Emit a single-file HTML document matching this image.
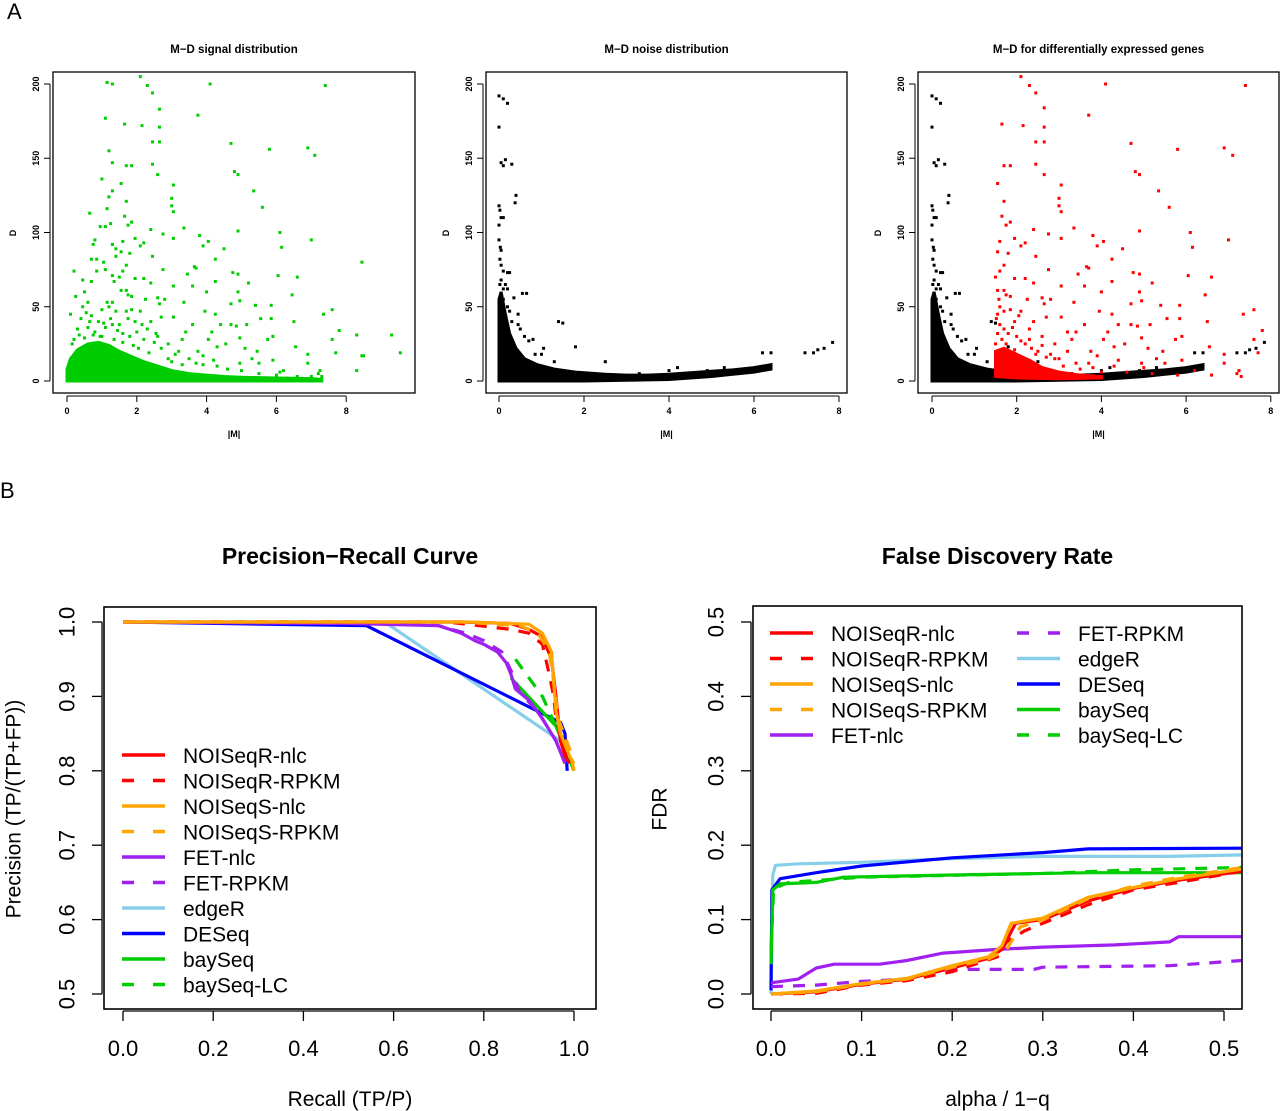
<!DOCTYPE html>
<html><head><meta charset="utf-8"><style>
html,body{margin:0;padding:0;background:#fff;}
svg{display:block;font-family:"Liberation Sans",sans-serif;}
</style></head><body>
<svg id="fig" width="1280" height="1111" viewBox="0 0 1280 1111" xmlns="http://www.w3.org/2000/svg">
<text x="7" y="19" font-size="22">A</text>
<text x="0" y="498" font-size="22">B</text>
<g id="topPanels"></g>
<g id="pr"></g>
<g id="fdr"></g>
</svg>
<script>
// ---------- Data: M-D scatter ----------
const signalPoints = [1.15,201,1.3,200,2.1,205,2.3,199,2.45,194,4.1,200,7.4,199,2.65,183,1.1,177,1.65,173,2.15,172,2.65,171,3.75,179,2.45,161,2.65,161,4.7,160,1.2,155,5.8,156,6.9,157,7.1,152,1.3,147,1.7,145,1.85,145,2.45,146,4.8,141,4.9,139,2.6,139,1.0,136,1.55,133,3.05,132,5.35,128,1.3,128,1.2,124,3.0,123,3.0,118,1.15,116,3.05,114,5.6,117,1.7,121,1.65,111,0.65,113,1.85,107,1.25,106,1.1,104,0.95,104,1.75,105,2.4,102,3.35,103,2.75,99,3.05,96,3.8,98,4.9,101,6.1,100,7.0,95,1.95,96,2.2,93,4.05,94,3.9,91,6.15,90,4.5,89,1.3,92,0.75,92,0.8,95,1.6,94,2.1,91,1.4,89,1.55,87,1.4,84,1.8,86,2.45,84,0.7,82,0.85,82,1.05,80,4.25,82,8.45,80,1.7,78,1.1,75,3.7,76,3.65,77,2.75,75,0.2,74,0.85,74,1.6,74,4.75,73,4.9,72,6.05,71,6.6,70,3.45,72,1.3,71,1.5,70,0.45,68,0.7,67,1.35,67,1.95,69,2.2,69,4.25,67,5.2,66,2.4,66,3.05,64,3.6,64,1.55,61,1.7,61,0.5,60,4.0,60,4.9,60,6.45,58,0.25,57,1.75,58,1.85,57,2.25,55,2.6,56,2.8,55,4.95,54,1.3,53,0.6,53,2.65,52,3.35,53,4.7,52,5.4,51,5.85,51,7.6,48,1.85,48,1.7,47,2.1,47,3.95,47,7.35,45,0.1,45,3.05,43,2.7,43,4.25,45,4.4,38,4.7,38,4.85,37,5.15,38,5.55,42,5.85,42,6.5,40,7.8,34,8.3,31,9.3,31,5.9,30,5.75,28,7.6,28,4.95,29,3.6,38,3.4,33,4.15,33,4.05,28,6.55,23,4.55,25,4.3,23,5.1,22,5.45,20,7.7,19,9.55,19,6.9,18,8.45,17,8.5,17,3.75,20,3.9,17,5.3,15,5.9,14,4.95,12,5.5,12,6.9,12,8.3,7,6.2,7,6.1,6,7.25,7,7.2,5,7.3,3,6.6,3,6.3,2,7.0,3,2.6,30,2.9,25,3.2,20,3.3,28,2.3,35,2.4,40,1.95,40,2.9,15,3.7,12,4.3,10,0.3,35,0.4,42,0.55,46,0.7,44,0.9,40,1.0,48,1.2,50,1.4,47,1.5,38,0.6,36,0.8,33,1.1,36,1.3,38,1.6,32,1.8,30,2.0,33,2.2,28,2.5,26,0.2,28,0.35,31,0.95,30,1.25,42,1.45,34,0.65,40,1.05,39,1.75,42,2.15,38,2.7,22,3.1,18,3.5,15,3.9,11,4.2,14,4.6,8,5.0,7,5.5,5,6.0,4,2.55,32,1.9,24,0.45,50,1.15,53,0.15,25,0.5,29,0.75,31,1.0,30,1.35,28,1.6,26,2.05,22,2.35,19,3.0,13,3.3,11];
const signalCoreUpper = [0,8,0.1,15,0.3,21,0.6,25,0.9,26,1.2,24,1.5,20,1.8,17,2.2,13,2.6,10,3.0,7,3.5,5,4.0,4,4.5,3,5.0,2.5,6.0,2,7.0,1.6,7.3,1];
const signalCoreLower = [7.3,0,0,0];

const noisePoints = [0,192,0.1,190,0.2,187,0,171,0.05,147,0.15,149,0.1,145,0.3,146,0.4,125,0.38,120,0,118,0.02,115,0.05,110,0.1,110,0,105,0,95,0.03,90,0.05,88,0.02,82,0.05,78,0.1,74,0.2,73,0.25,73,0.05,68,0.15,65,0.1,62,0.2,62,0.35,56,0.55,59,0.65,59,0.45,45,0.45,38,0.8,28,0.7,27,1.05,22,1.0,18,0.85,18,1.4,40,1.5,39,1.8,23,2.5,13,1.3,13,3.3,5,4.0,7,4.2,9,4.9,7,5.3,9,6.2,19,6.4,19,7.2,19,7.4,19,7.5,21,7.65,22,7.85,26,0.5,35,0.3,40,0.6,30,0.2,50,0.25,47,0.05,58,0.1,55,0.02,65];
const noiseCoreUpper = [0,55,0.05,60,0.15,45,0.25,32,0.4,22,0.6,15,0.9,11,1.3,8,1.8,6,2.5,4.5,3.0,4,3.5,4,4.0,4.5,4.5,5.5,5.0,6.5,5.5,7.5,6.0,9,6.4,11];
const noiseCoreLower = [6.4,8,6.0,6,5.5,4.5,5.0,3,4.5,2,4.0,1,3.0,0.5,2.0,0,0,0];

const dePoints = [2.1,205,2.3,199,2.45,194,4.1,200,7.4,199,2.65,184,2.65,171,3.7,179,1.65,173,2.15,172,2.45,161,2.65,161,4.7,160,5.8,156,6.9,157,7.1,152,1.7,145,1.85,145,2.45,146,4.8,141,4.9,139,2.65,139,3.05,132,1.55,133,5.35,128,3.0,123,3.0,118,3.05,114,5.6,117,1.7,121,1.65,111,1.85,107,1.75,105,2.4,102,3.35,103,2.75,99,3.05,96,3.8,98,4.9,101,6.1,100,7.0,95,1.95,96,2.2,93,4.05,94,3.9,91,6.15,90,4.5,89,1.6,94,2.1,91,1.55,87,1.8,86,2.45,84,4.25,82,8.45,80,1.7,78,3.7,76,3.65,77,2.75,75,1.6,74,4.75,73,4.9,72,6.05,71,6.6,70,3.45,72,1.5,70,1.95,69,2.2,69,4.25,67,5.2,66,2.4,66,3.05,64,3.6,64,1.55,61,1.7,61,4.0,60,4.9,60,6.45,58,1.75,58,1.85,57,2.25,55,2.6,56,2.8,55,4.95,54,2.65,52,3.35,53,4.7,52,5.4,51,5.85,51,7.6,48,1.85,48,1.7,47,2.1,47,3.95,47,7.35,45,3.05,43,2.7,43,4.25,45,4.4,38,4.7,38,4.85,37,5.15,38,5.55,42,5.85,42,6.5,40,7.8,34,5.9,30,5.75,28,7.6,28,4.95,29,3.6,38,3.4,33,4.15,33,4.05,28,6.55,23,4.55,25,4.3,23,5.1,22,5.45,20,7.7,19,6.9,18,3.75,20,3.9,17,5.3,15,5.9,14,4.95,12,5.5,12,6.9,12,6.2,7,7.25,7,7.2,5,7.3,3,6.6,4,2.6,30,2.9,25,3.2,20,3.3,28,2.3,35,2.4,40,1.95,40,2.9,15,3.7,12,4.3,10,1.6,50,1.55,45,1.6,38,1.7,35,2.0,30,2.2,25,1.75,25,2.5,20,2.8,18,3.1,10,3.5,8,4.0,6,4.6,6,5.2,5,5.8,4,2.35,12,1.52,42,1.58,55,1.9,36,2.05,44,2.3,28,2.6,24,3.0,15,3.4,12,3.8,9,4.4,14,5.0,9,3.2,33,2.45,18,1.55,32,1.65,28,1.8,32,2.1,27,2.35,22,2.7,16,1.5,25,1.95,21];
const deCoreUpper = [1.5,5,1.5,20,1.7,22,2.0,18,2.3,14,2.6,9,3.0,6,3.5,4,4.0,3];
const deCoreLower = [4.0,2,3.0,1.5,2.0,2,1.5,3];

const mTicks = [0,2,4,6,8];
const dTicks = [0,50,100,150,200];

// ---------- Data: precision-recall ----------
const prNames = ["NOISeqR-nlc","NOISeqR-RPKM","NOISeqS-nlc","NOISeqS-RPKM","FET-nlc","FET-RPKM","edgeR","DESeq","baySeq","baySeq-LC"];
const prNOISeqRnlc = [0,1,0.75,1,0.86,0.998,0.9,0.99,0.93,0.98,0.95,0.95,0.96,0.9,0.965,0.87,0.97,0.84,0.98,0.82,0.99,0.81];
const prNOISeqRrpkm = [0,1,0.72,1,0.86,0.99,0.9,0.985,0.93,0.97,0.945,0.93,0.955,0.9,0.96,0.87,0.975,0.84,0.99,0.81];
const prNOISeqSnlc = [0,1,0.77,1,0.9,0.997,0.93,0.985,0.95,0.96,0.955,0.92,0.96,0.88,0.97,0.85,0.99,0.82,1.0,0.81];
const prNOISeqSrpkm = [0,1,0.75,1,0.88,0.995,0.92,0.985,0.945,0.96,0.955,0.92,0.965,0.87,0.99,0.83,1.0,0.8];
const prFETnlc = [0,1,0.5,0.998,0.7,0.995,0.75,0.985,0.78,0.975,0.8,0.97,0.83,0.96,0.85,0.945,0.86,0.93,0.87,0.91,0.9,0.895,0.93,0.87,0.96,0.84,0.98,0.81];
const prFETrpkm = [0,1,0.58,1,0.7,0.995,0.76,0.985,0.8,0.975,0.84,0.96,0.86,0.935,0.88,0.905,0.92,0.88,0.96,0.84,0.98,0.81];
const prEdgeR = [0.58,1,0.97,0.84,0.98,0.83,0.99,0.81];
const prDESeq = [0,1,0.54,0.995,0.92,0.88,0.97,0.865,0.98,0.85,0.985,0.8];
const prBaySeq = [0.86,0.925,0.96,0.86,0.98,0.83,1.0,0.8];
const prBaySeqLC = [0.87,0.95,0.93,0.9,0.96,0.86,0.99,0.82,1.0,0.8];
const prTicksX = ["0.0","0.2","0.4","0.6","0.8","1.0"];
const prTicksY = ["0.5","0.6","0.7","0.8","0.9","1.0"];

// ---------- Data: FDR ----------
const fdrNOISeqRnlc = [0,0,0.05,0.003,0.1,0.013,0.15,0.02,0.2,0.035,0.24,0.048,0.255,0.06,0.27,0.095,0.3,0.1,0.35,0.125,0.4,0.142,0.45,0.153,0.52,0.165];
const fdrNOISeqRrpkm = [0,0,0.05,0.001,0.1,0.012,0.15,0.018,0.2,0.03,0.25,0.05,0.26,0.07,0.28,0.085,0.3,0.095,0.35,0.12,0.4,0.14,0.45,0.15,0.52,0.165];
const fdrNOISeqSnlc = [0,0,0.05,0.004,0.1,0.014,0.15,0.021,0.2,0.038,0.24,0.05,0.255,0.065,0.265,0.095,0.3,0.102,0.35,0.13,0.4,0.143,0.45,0.155,0.52,0.168];
const fdrNOISeqSrpkm = [0,0,0.05,0.003,0.1,0.013,0.15,0.02,0.2,0.036,0.24,0.047,0.26,0.06,0.275,0.09,0.3,0.1,0.35,0.128,0.4,0.145,0.45,0.157,0.52,0.17];
const fdrFETnlc = [0,0.015,0.03,0.02,0.05,0.035,0.07,0.04,0.12,0.04,0.15,0.045,0.19,0.055,0.25,0.06,0.3,0.063,0.38,0.066,0.44,0.07,0.45,0.077,0.52,0.077];
const fdrFETrpkm = [0,0.01,0.05,0.012,0.1,0.017,0.15,0.02,0.19,0.032,0.22,0.033,0.29,0.033,0.3,0.036,0.44,0.038,0.52,0.045];
const fdrEdgeR = [0,0,0.002,0.16,0.005,0.173,0.03,0.175,0.1,0.177,0.2,0.182,0.3,0.185,0.44,0.185,0.52,0.187];
const fdrDESeq = [0,0.005,0.001,0.14,0.01,0.155,0.05,0.163,0.1,0.172,0.2,0.183,0.3,0.19,0.35,0.195,0.52,0.196];
const fdrBaySeq = [0,0.04,0.002,0.14,0.01,0.148,0.05,0.15,0.08,0.157,0.2,0.16,0.35,0.163,0.52,0.163];
const fdrBaySeqLC = [0,0.06,0.003,0.142,0.02,0.15,0.1,0.157,0.3,0.162,0.4,0.167,0.52,0.17];
const fdrTicksX = ["0.0","0.1","0.2","0.3","0.4","0.5"];
const fdrTicksY = ["0.0","0.1","0.2","0.3","0.4","0.5"];

// ---------- Helpers ----------
const NS = "http://www.w3.org/2000/svg";
function mk(parent, tag, attrs, text){
  const e = document.createElementNS(NS, tag);
  for (const k in attrs) e.setAttribute(k, attrs[k]);
  if (text !== undefined) e.textContent = text;
  parent.appendChild(e);
  return e;
}
const styles = {
  "NOISeqR-nlc":{c:"#ff0000",d:null},
  "NOISeqR-RPKM":{c:"#ff0000",d:"12 10"},
  "NOISeqS-nlc":{c:"#ffa500",d:null},
  "NOISeqS-RPKM":{c:"#ffa500",d:"12 10"},
  "FET-nlc":{c:"#a020f0",d:null},
  "FET-RPKM":{c:"#a020f0",d:"12 10"},
  "edgeR":{c:"#87ceeb",d:null},
  "DESeq":{c:"#0000ff",d:null},
  "baySeq":{c:"#00cd00",d:null},
  "baySeq-LC":{c:"#00cd00",d:"12 10"}
};

// ---------- Top scatter panels ----------
const topG = document.getElementById('topPanels');
const panels = [
  {title:"M\u2212D signal distribution", box:[53,72,415,393], x0:67, kx:34.9, key:"signal"},
  {title:"M\u2212D noise distribution", box:[486,72,847,393], x0:499, kx:42.5, key:"noise"},
  {title:"M\u2212D for differentially expressed genes", box:[918,72,1279,393], x0:932, kx:42.35, key:"de"}
];
function dY(d){ return 381 - d*1.485; }
function drawCore(g, p, upper, lower, color, name){
  let pts = [];
  const all = upper.concat(lower);
  for (let i=0;i<all.length;i+=2) pts.push((p.x0+all[i]*p.kx).toFixed(1)+","+dY(all[i+1]).toFixed(1));
  const e = mk(g,'polygon',{points:pts.join(' '),fill:color,stroke:color,'stroke-width':3});
  
  
}
function drawPts(g, p, arr, color, name){
  const gg = mk(g,'g',{fill:color});
  
  
  for (let i=0;i<arr.length;i+=2){
    const r = mk(gg,'rect',{x:(p.x0+arr[i]*p.kx-1.5).toFixed(1),y:(dY(arr[i+1])-1.5).toFixed(1),width:3,height:3});
    
    
  }
}
panels.forEach((p,pi)=>{
  const g = mk(topG,'g',{});
  
  
  const cx = (p.box[0]+p.box[2])/2;
  const t = mk(g,'text',{x:cx,y:53,'font-size':11.5,'font-weight':'bold','text-anchor':'middle'},p.title);
  
  
  if (p.key==="signal"){
    drawCore(g,p,signalCoreUpper,signalCoreLower,"#00cd00","signal-dense-core");
    drawPts(g,p,signalPoints,"#00cd00","signal-points");
  } else if (p.key==="noise"){
    drawCore(g,p,noiseCoreUpper,noiseCoreLower,"#000","noise-dense-core");
    drawPts(g,p,noisePoints,"#000","noise-points");
  } else {
    drawCore(g,p,noiseCoreUpper,noiseCoreLower,"#000","noise-dense-core");
    drawPts(g,p,noisePoints,"#000","noise-points");
    drawCore(g,p,deCoreUpper,deCoreLower,"#ff0000","de-dense-core");
    drawPts(g,p,dePoints,"#ff0000","de-points");
  }
  const b = mk(g,'rect',{x:p.box[0],y:p.box[1],width:p.box[2]-p.box[0],height:p.box[3]-p.box[1],fill:'none',stroke:'#000','stroke-width':1.3});
  
  
  const ax = mk(g,'g',{});
  
  
  mk(ax,'line',{x1:p.x0,x2:p.x0+8*p.kx,y1:p.box[3]+3,y2:p.box[3]+3,stroke:'#000'});
  mTicks.forEach(v=>{
    const x = p.x0+v*p.kx;
    mk(ax,'line',{x1:x,x2:x,y1:p.box[3]+3,y2:p.box[3]+9,stroke:'#000'});
    const tl = mk(ax,'text',{x:x,y:414,'font-size':9,'font-weight':'bold','text-anchor':'middle'},String(v));
    
    
  });
  const ay = mk(g,'g',{});
  
  
  mk(ay,'line',{x1:p.box[0]-3,x2:p.box[0]-3,y1:dY(0),y2:dY(200),stroke:'#000'});
  dTicks.forEach(v=>{
    const y = dY(v);
    mk(ay,'line',{x1:p.box[0]-3,x2:p.box[0]-9,y1:y,y2:y,stroke:'#000'});
    const tl = mk(ay,'text',{x:0,y:0,'font-size':9,'font-weight':'bold','text-anchor':'middle',transform:`translate(${p.box[0]-14},${y}) rotate(-90)`},String(v));
    
    
  });
  const xl = mk(g,'text',{x:cx,y:437,'font-size':9,'font-weight':'bold','text-anchor':'middle'},"|M|");
  
  
  const yl = mk(g,'text',{x:0,y:0,'font-size':9,'font-weight':'bold','text-anchor':'middle',transform:`translate(${p.box[0]-37},${233}) rotate(-90)`},"D");
  
  
});

// ---------- Bottom line charts ----------
function lineChart(gid, cfg){
  const g = document.getElementById(gid);
  
  
  const sx = v => cfg.x0 + (v-cfg.xmin)/(cfg.xmax-cfg.xmin)*(cfg.x1-cfg.x0);
  const sy = v => cfg.y0 - (v-cfg.ymin)/(cfg.ymax-cfg.ymin)*(cfg.y0-cfg.y1);
  const t = mk(g,'text',{x:(cfg.box[0]+cfg.box[2])/2,y:564,'font-size':23,'font-weight':'bold','text-anchor':'middle'},cfg.title);
  
  
  const clip = mk(g,'clipPath',{id:gid+'-clip'});
  mk(clip,'rect',{x:cfg.box[0],y:cfg.box[1],width:cfg.box[2]-cfg.box[0],height:cfg.box[3]-cfg.box[1]});
  const sg = mk(g,'g',{'clip-path':`url(#${gid}-clip)`});
  cfg.series.forEach(s=>{
    const st = styles[s.name];
    let d = "";
    for (let i=0;i<s.data.length;i+=2) d += (i?"L":"M")+sx(s.data[i]).toFixed(1)+","+sy(s.data[i+1]).toFixed(1);
    const attrs = {d:d,fill:'none',stroke:st.c,'stroke-width':3.2,'stroke-linejoin':'round'};
    if (st.d) attrs['stroke-dasharray']=st.d;
    const e = mk(sg,'path',attrs);
    
    
  });
  const b = mk(g,'rect',{x:cfg.box[0],y:cfg.box[1],width:cfg.box[2]-cfg.box[0],height:cfg.box[3]-cfg.box[1],fill:'none',stroke:'#000','stroke-width':1.6});
  
  
  const ax = mk(g,'g',{});
  
  
  const yb = cfg.box[3];
  mk(ax,'line',{x1:sx(+cfg.xt[0]),x2:sx(+cfg.xt[cfg.xt.length-1]),y1:yb+2,y2:yb+2,stroke:'#000','stroke-width':1.3});
  cfg.xt.forEach(v=>{
    const x = sx(+v);
    mk(ax,'line',{x1:x,x2:x,y1:yb+2,y2:yb+12,stroke:'#000','stroke-width':1.3});
    const tl = mk(ax,'text',{x:x,y:1056,'font-size':22,'text-anchor':'middle'},v);
    
    
  });
  const ay = mk(g,'g',{});
  
  
  const xb = cfg.box[0];
  mk(ay,'line',{x1:xb-2,x2:xb-2,y1:sy(+cfg.yt[0]),y2:sy(+cfg.yt[cfg.yt.length-1]),stroke:'#000','stroke-width':1.3});
  cfg.yt.forEach(v=>{
    const y = sy(+v);
    mk(ay,'line',{x1:xb-2,x2:xb-12,y1:y,y2:y,stroke:'#000','stroke-width':1.3});
    const tl = mk(ay,'text',{x:0,y:0,'font-size':22,'text-anchor':'middle','dominant-baseline':'central',transform:`translate(${cfg.ytx},${y}) rotate(-90)`},v);
    
    
  });
  const xl = mk(g,'text',{x:(cfg.box[0]+cfg.box[2])/2,y:1106,'font-size':21,'text-anchor':'middle'},cfg.xlab);
  
  
  const yl = mk(g,'text',{x:0,y:0,'font-size':21,'text-anchor':'middle','dominant-baseline':'central',transform:`translate(${cfg.ylx},809) rotate(-90)`},cfg.ylab);
  
  
  const lg = mk(g,'g',{});
  
  
  cfg.legend.forEach(L=>{
    const st = styles[L.name];
    const eg = mk(lg,'g',{});
    
    
    const a = {x1:L.x,x2:L.x+43,y1:L.y,y2:L.y,stroke:st.c,'stroke-width':3.5};
    if (st.d) a['stroke-dasharray']="12 19";
    mk(eg,'line',a);
    mk(eg,'text',{x:L.x+61,y:L.y+8,'font-size':21},L.name);
  });
}
const prSeries = [prNOISeqRnlc,prNOISeqRrpkm,prNOISeqSnlc,prNOISeqSrpkm,prFETnlc,prFETrpkm,prEdgeR,prDESeq,prBaySeq,prBaySeqLC];
const fdrSeries = [fdrNOISeqRnlc,fdrNOISeqRrpkm,fdrNOISeqSnlc,fdrNOISeqSrpkm,fdrFETnlc,fdrFETrpkm,fdrEdgeR,fdrDESeq,fdrBaySeq,fdrBaySeqLC];
const drawOrder = [6,7,8,9,4,5,0,1,2,3];
lineChart('pr',{
  name:'precision-recall-chart', title:'Precision\u2212Recall Curve',
  box:[104,607,596,1009], x0:123,x1:574,xmin:0,xmax:1, y0:994,y1:622,ymin:0.5,ymax:1,
  xt:prTicksX, yt:prTicksY, ytx:67, ylx:14,
  xlab:'Recall (TP/P)', ylab:'Precision (TP/(TP+FP))',
  series: drawOrder.map(i=>({name:prNames[i],data:prSeries[i]})),
  legend: prNames.map((n,i)=>({name:n,x:122,y:755+i*25.5}))
});
lineChart('fdr',{
  name:'false-discovery-rate-chart', title:'False Discovery Rate',
  box:[753,606,1242,1009], x0:771,x1:1224,xmin:0,xmax:0.5, y0:994,y1:622,ymin:0,ymax:0.5,
  xt:fdrTicksX, yt:fdrTicksY, ytx:716, ylx:660,
  xlab:'alpha / 1\u2212q', ylab:'FDR',
  series: drawOrder.map(i=>({name:prNames[i],data:fdrSeries[i]})),
  legend: prNames.map((n,i)=>({name:n,x:i<5?770:1017,y:633+(i%5)*25.5}))
});
</script>
</body></html>
